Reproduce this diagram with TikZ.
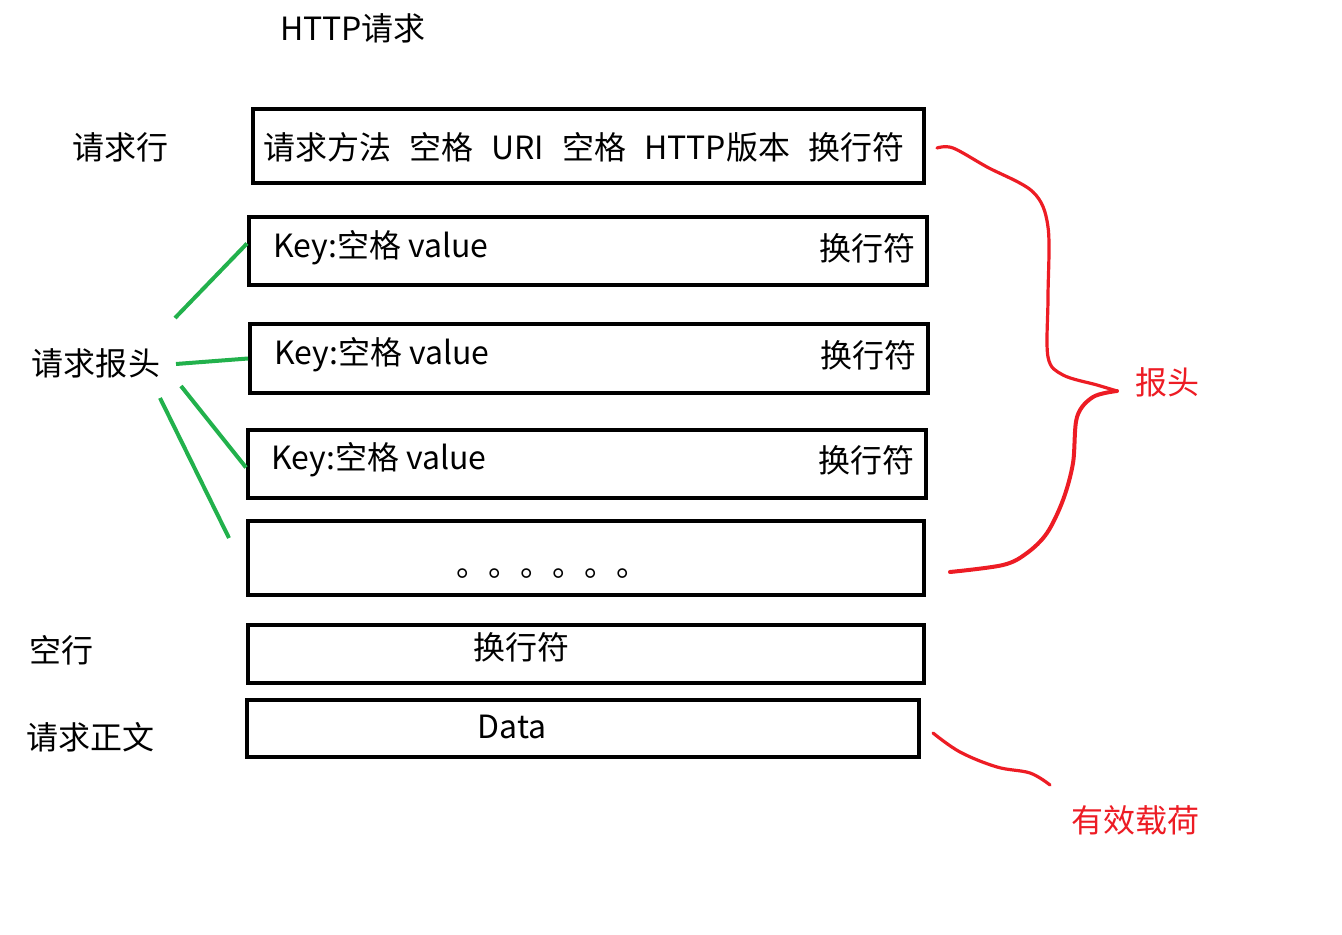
\documentclass[tikz,border=0pt]{standalone}
\usepackage{fontspec}
\setmainfont{Noto Sans CJK SC}
\definecolor{penred}{HTML}{ED1C24}
\definecolor{pengreen}{HTML}{22B14C}

\tikzset{
  rowbox/.style={draw, line width=2pt, inner sep=0pt},
  lbl/.style={font=\fontsize{16}{19}\selectfont, inner sep=0pt},
  redlbl/.style={lbl, text=penred},
  greenline/.style={pengreen, line width=2pt},
  redline/.style={penred, line width=1.6pt, line cap=round, line join=round},
}

\begin{document}
\begin{tikzpicture}[x=0.5pt, y=-0.5pt]
    \useasboundingbox (0,0) rectangle (1342,935);

    % title
    \node[lbl] (title) at (353,28) {HTTP请求};

    % boxes
    \node[rowbox, minimum width=335.5pt, minimum height=37pt] (reqline) at (588.5,146) {};
    \node[rowbox, minimum width=339pt, minimum height=34pt] (kv1) at (588,251.5) {};
    \node[rowbox, minimum width=339pt, minimum height=34pt] (kv2) at (589,358.5) {};
    \node[rowbox, minimum width=339pt, minimum height=34pt] (kv3) at (587,463.5) {};
    \node[rowbox, minimum width=338pt, minimum height=37pt] (more) at (586,558) {};
    \node[rowbox, minimum width=338pt, minimum height=29pt] (blank) at (586,653.5) {};
    \node[rowbox, minimum width=336pt, minimum height=28.5pt] (body) at (583,728) {};

    % request line
    \node[lbl, anchor=west] (reqtext) at (263,147)
        {请求方法\hspace{9pt}空格\hspace{9pt}URI\hspace{9pt}空格\hspace{9pt}HTTP版本\hspace{9pt}换行符};

    % header lines
    \node[lbl, anchor=west] (key1) at (273,248) {Key:空格 value};
    \node[lbl, anchor=east] (nl1) at (916,248) {换行符};
    \node[lbl, anchor=west] (key2) at (274,355) {Key:空格 value};
    \node[lbl, anchor=east] (nl2) at (917,355) {换行符};
    \node[lbl, anchor=west] (key3) at (271,460) {Key:空格 value};
    \node[lbl, anchor=east] (nl3) at (915,460) {换行符};
    \node[lbl, anchor=base west] (dots) at (456,576) {。。。。。。};

    % blank line and body
    \node[lbl] (nl4) at (521,647) {换行符};
    \node[lbl] (data) at (512,727) {Data};

    % left labels
    \node[lbl] (lreq) at (120,147) {请求行};
    \node[lbl] (lhdr) at (96,363) {请求报头};
    \node[lbl] (lblank) at (61,650) {空行};
    \node[lbl] (lbody) at (90,737) {请求正文};

    % green pointers
    \coordinate (g1) at (175,318);
    \coordinate (g2) at (176,364);
    \coordinate (g3) at (181,386);
    \coordinate (g4) at (160,398);
    \coordinate (g4end) at (229,538);
    \draw[greenline] (g1) -- ([yshift=4pt]kv1.west);
    \draw[greenline] (g2) -- (kv2.west);
    \draw[greenline] (g3) -- ([yshift=-2pt]kv3.west);
    \draw[greenline] (g4) -- (g4end);

    % red brace
    \draw[redline] plot[smooth, tension=0.55] coordinates {
        (937,148) (953,148) (987,167) (1033,192) (1048,227) (1048,297)
        (1048,357) (1063,375) (1097,385) (1117,391)};
    \draw[redline, line width=2pt] plot[smooth, tension=0.55] coordinates {
        (1117,391) (1093,397) (1077,417) (1073,463) (1063,500) (1047,533)
        (1027,553) (1003,565) (950,572)};
    \node[redlbl] (hdrtag) at (1167,382) {报头};

    % payload
    \draw[redline] plot[smooth, tension=0.6] coordinates {
        (933,733) (960,752) (997,767) (1030,773) (1050,785)};
    \node[redlbl] (payload) at (1135,820) {有效载荷};

\end{tikzpicture}
\end{document}
